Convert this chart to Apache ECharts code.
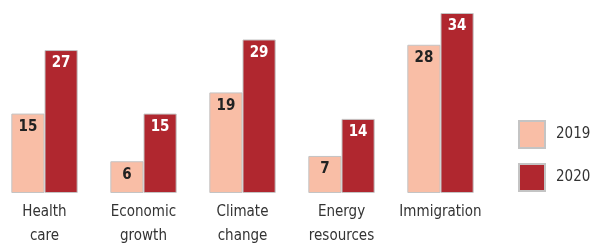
<!DOCTYPE html>
<html>
<head>
<meta charset="utf-8">
<script src="https://cdn.jsdelivr.net/npm/echarts@6/dist/echarts.min.js"></script>
<style>
  html, body { margin: 0; padding: 0; background: #fff; }
  #chart { width: 590px; height: 245px; }
</style>
</head>
<body>
<div id="chart"></div>
<script>
const categories = ['Health\ncare', 'Economic\ngrowth', 'Climate\nchange', 'Energy\nresources', 'Immigration'];
const seriesNames = ['2019', '2020'];
const values2019 = [15, 6, 19, 7, 28];
const values2020 = [27, 15, 29, 14, 34];

const font = '"Liberation Sans Narrow", "DejaVu Sans Condensed", sans-serif';
const colors = ['#f9bea6', '#b0272f'];

const chart = echarts.init(document.getElementById('chart'));

function makeSeries(name, data, color, labelColor) {
  return {
    name: name,
    type: 'bar',
    data: data,
    barGap: '0%',
    barCategoryGap: '33%',
    itemStyle: { color: color, borderColor: '#c4c4c4', borderWidth: 1 },
    label: {
      show: true,
      position: 'insideTop',
      distance: 6,
      color: labelColor,
      fontFamily: font,
      fontWeight: 'bold',
      fontSize: 15
    },
    emphasis: { disabled: true }
  };
}

chart.setOption({
  animation: false,
  textStyle: { fontFamily: font },
  legend: {
    orient: 'vertical',
    left: 518,
    top: 120,
    padding: 0,
    itemWidth: 26,
    itemHeight: 27,
    itemGap: 14,
    icon: 'rect',
    textStyle: { fontSize: 15, color: '#333', fontFamily: font, padding: [0, 0, 0, 6] },
    data: seriesNames
  },
  grid: { left: -5, width: 495, top: 13, height: 180, outerBoundsMode: 'none' },
  xAxis: {
    type: 'category',
    data: categories,
    axisLine: { show: false },
    axisTick: { show: false },
    axisLabel: {
      color: '#333',
      fontSize: 15,
      lineHeight: 24,
      margin: 7,
      interval: 0,
      fontFamily: font
    }
  },
  yAxis: {
    type: 'value',
    min: 0,
    max: 34,
    show: false,
    splitLine: { show: false }
  },
  series: [
    makeSeries(seriesNames[0], values2019, colors[0], '#222'),
    makeSeries(seriesNames[1], values2020, colors[1], '#fff')
  ]
});
</script>
</body>
</html>
